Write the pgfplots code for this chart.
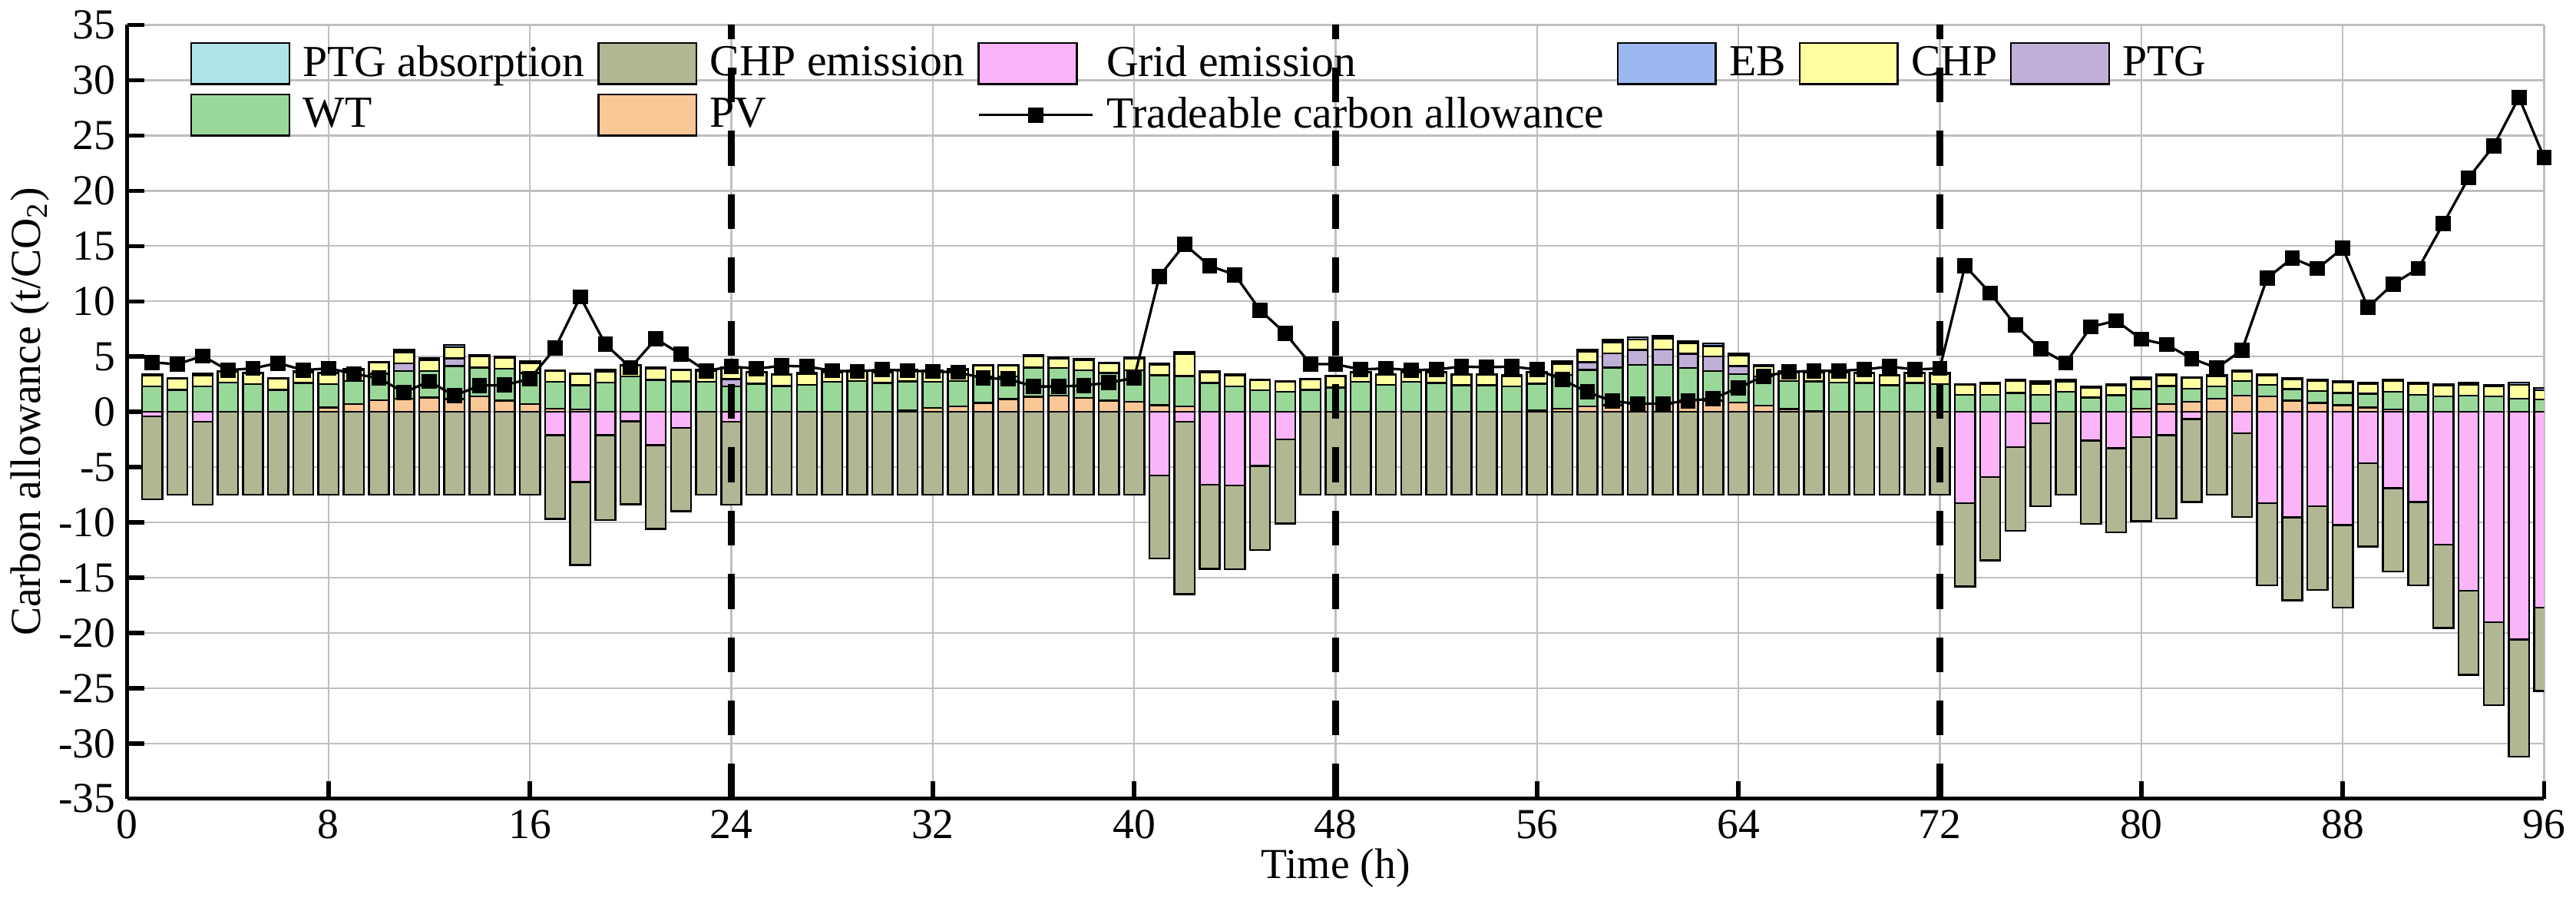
\documentclass[border=0pt]{standalone}
\usepackage{pgfplots}
\usepackage{pgfplotstable}
\pgfplotsset{compat=1.18}
\usepackage{fontspec}
\setmainfont{Liberation Serif}
\definecolor{cptga}{HTML}{AEE4EA}
\definecolor{cchpe}{HTML}{B2B793}
\definecolor{cgrid}{HTML}{FBB4F8}
\definecolor{ceb}{HTML}{9DB8F0}
\definecolor{cchp}{HTML}{FFFFA0}
\definecolor{cptg}{HTML}{C0B0D8}
\definecolor{cwt}{HTML}{9AD89A}
\definecolor{cpv}{HTML}{FAC896}
\pgfplotstableread{
h pv wt ptg chp eb grid chpe line
1 0 2.3 0 1.0 0.1 -0.4 -7.5 4.47
2 0 2.0 0 1.0 0.05 0 -7.5 4.31
3 0 2.3 0 1.0 0.15 -0.9 -7.5 5.05
4 0 2.65 0 1.0 0.05 0 -7.5 3.77
5 0 2.5 0 1.0 0.05 0 -7.5 3.93
6 0 2.0 0 1.0 0.05 0 -7.5 4.41
7 0 2.6 0 1.0 0.05 0 -7.5 3.77
8 0.4 2.1 0 1.0 0.05 0 -7.5 3.93
9 0.7 2.1 0 1.0 0.05 0 -7.5 3.45
10 1.05 2.4 0 1.0 0.05 0 -7.5 3.04
11 1.2 2.5 0.7 1.0 0.2 0 -7.5 1.76
12 1.3 2.4 0 1.0 0.15 0 -7.5 2.75
13 1.15 3.0 0.7 1.0 0.2 0 -7.5 1.47
14 1.4 2.6 0 1.0 0.15 0 -7.5 2.36
15 1.0 2.9 0 1.0 0.1 0 -7.5 2.43
16 0.7 2.8 0 0.9 0.15 0 -7.5 2.97
17 0.3 2.4 0 1.0 0.05 -2.1 -7.6 5.75
18 0.2 2.2 0 1.0 0.05 -6.35 -7.5 10.4
19 0 2.65 0 1.0 0.15 -2.1 -7.7 6.1
20 0 3.2 0 1.0 0.05 -0.85 -7.5 4.0
21 0 2.9 0 1.0 0.1 -3.0 -7.6 6.6
22 0 2.75 0 1.0 0.05 -1.45 -7.55 5.2
23 0 2.7 0 1.0 0.1 0 -7.5 3.7
24 0 2.3 0.65 1.0 0.05 -0.9 -7.5 4.1
25 0 2.55 0 1.0 0.05 0 -7.5 3.9
26 0 2.35 0 1.0 0.05 0 -7.5 4.16
27 0 2.45 0 1.0 0.05 0 -7.5 4.1
28 0 2.7 0 0.9 0.05 0 -7.5 3.72
29 0 2.8 0 0.9 0.05 0 -7.5 3.65
30 0 2.6 0 1.0 0.05 0 -7.5 3.82
31 0.15 2.6 0 1.0 0.05 0 -7.5 3.72
32 0.35 2.35 0 1.0 0.05 0 -7.5 3.65
33 0.5 2.3 0 1.0 0.05 0 -7.5 3.58
34 0.8 2.4 0 1.0 0.05 0 -7.5 3.04
35 1.15 2.05 0 1.0 0.05 0 -7.5 2.97
36 1.35 2.65 0 1.0 0.1 0 -7.5 2.29
37 1.45 2.5 0 0.9 0.1 0 -7.5 2.29
38 1.25 2.5 0 0.95 0.05 0 -7.5 2.39
39 1.0 2.5 0 0.9 0.05 0 -7.5 2.63
40 0.9 2.85 0 1.1 0.1 0 -7.5 3.07
41 0.6 2.7 0 0.95 0.15 -5.75 -7.5 12.25
42 0.5 2.75 0 2.0 0.15 -0.9 -15.6 15.15
43 0 2.6 0 0.95 0.15 -6.6 -7.6 13.2
44 0 2.3 0 1.0 0.1 -6.65 -7.6 12.4
45 0 1.95 0 0.9 0.05 -4.9 -7.6 9.2
46 0 1.8 0 0.95 0.05 -2.5 -7.6 7.1
47 0 2.0 0 0.95 0.05 0 -7.5 4.33
48 0 2.2 0 1.0 0.05 0 -7.5 4.3
49 0 2.7 0 0.85 0.05 0 -7.5 3.83
50 0 2.45 0 0.9 0.05 0 -7.5 3.93
51 0 2.7 0 0.9 0.05 0 -7.5 3.77
52 0 2.6 0 0.95 0.05 0 -7.5 3.83
53 0 2.4 0 0.95 0.05 0 -7.5 4.09
54 0 2.4 0 0.95 0.05 0 -7.5 4.03
55 0 2.3 0 0.95 0.05 0 -7.5 4.09
56 0.1 2.45 0 1.0 0.05 0 -7.5 3.83
57 0.3 3.05 0 1.0 0.2 0 -7.5 2.91
58 0.5 3.3 0.7 0.95 0.2 0 -7.5 1.79
59 0.6 3.4 1.3 1.0 0.2 0 -7.5 0.96
60 0.7 3.55 1.35 0.95 0.2 0 -7.5 0.73
61 0.7 3.55 1.4 1.0 0.2 0 -7.5 0.73
62 1.05 2.9 1.3 0.95 0.15 0 -7.5 0.99
63 1.0 2.7 1.3 0.95 0.25 0 -7.5 1.21
64 0.85 2.55 0.75 0.95 0.15 0 -7.5 2.17
65 0.55 2.65 0 0.9 0.15 0 -7.5 3.23
66 0.25 2.55 0 0.8 0.05 0 -7.5 3.61
67 0.05 2.7 0 0.85 0.05 0 -7.5 3.71
68 0 2.65 0 0.9 0.05 0 -7.5 3.71
69 0 2.6 0 0.9 0.05 0 -7.5 3.83
70 0 2.4 0 0.9 0.05 0 -7.5 4.09
71 0 2.6 0 0.9 0.05 0 -7.5 3.83
72 0 2.5 0 0.95 0.05 0 -7.5 3.93
73 0 1.55 0 0.9 0.05 -8.25 -7.55 13.2
74 0 1.55 0 1.0 0.1 -5.9 -7.55 10.75
75 0 1.7 0 1.1 0.1 -3.2 -7.55 7.84
76 0 1.55 0 1.0 0.2 -1.05 -7.5 5.68
77 0 1.8 0 0.9 0.2 0 -7.5 4.42
78 0 1.3 0 0.85 0.1 -2.6 -7.55 7.69
79 0 1.5 0 0.9 0.1 -3.3 -7.6 8.24
80 0.3 1.75 0 0.9 0.15 -2.3 -7.6 6.58
81 0.7 1.65 0 0.95 0.1 -2.1 -7.55 6.08
82 0.9 1.2 0 0.95 0.1 -0.65 -7.5 4.82
83 1.2 1.1 0 0.95 0.1 0 -7.5 3.97
84 1.45 1.35 0 0.85 0.1 -1.95 -7.55 5.58
85 1.4 1.05 0 0.85 0.1 -8.25 -7.45 12.1
86 1.0 1.05 0 0.9 0.1 -9.55 -7.5 13.9
87 0.8 1.1 0 0.9 0.1 -8.55 -7.55 12.96
88 0.6 1.1 0 0.95 0.1 -10.25 -7.45 14.8
89 0.4 1.25 0 0.9 0.05 -4.65 -7.55 9.45
90 0.2 1.6 0 1.0 0.1 -6.9 -7.55 11.56
91 0 1.55 0 1.0 0.1 -8.15 -7.55 12.96
92 0 1.4 0 1.0 0.1 -12.0 -7.55 17.04
93 0 1.45 0 1.0 0.15 -16.2 -7.6 21.16
94 0 1.4 0 0.9 0.15 -19.05 -7.5 24.07
95 0 1.2 0 1.25 0.2 -20.6 -10.6 28.44
96 0 1.1 0 0.85 0.2 -17.7 -7.55 23.0
}\data
\pgfplotsset{
  common/.style={width=764pt,height=244.5pt,scale only axis,
    xmin=0,xmax=96,ymin=-35,ymax=35},
  barsty/.style={ybar stacked,bar width=0.8,draw=black,line width=0.6pt},
  boxleg/.style={legend image code/.code={\draw[##1,draw=black,line width=0.6pt] (0pt,-6.5pt) rectangle (31pt,6.5pt);}},
  lineleg/.style={legend image code/.code={\draw[mark repeat=2,mark phase=2,##1] plot coordinates {(0pt,0pt) (18pt,0pt) (36pt,0pt)};}},
}
\begin{document}
\begin{tikzpicture}[font=\fontsize{13.5}{16}\selectfont]
\begin{axis}[common,barsty,
  axis lines*=left, axis line style={line width=1.3pt,-},
  xtick={0,8,...,96}, ytick={-35,-30,...,35},
  tick align=inside, major tick length=5.5pt, tick style={line width=1.3pt,black},
  grid=major, grid style={line width=0.6pt,color=black!25},
  /pgf/number format/assume math mode=true,
  xlabel={Time (h)}, ylabel={Carbon allowance (t/CO\textsubscript{2})},
  xlabel style={yshift=4pt}, ylabel style={yshift=-4pt}]
\addplot[fill=cgrid] table[x=h,y=grid]{\data};
\addplot[fill=cchpe] table[x=h,y=chpe]{\data};
\end{axis}
\begin{axis}[common,barsty,axis lines=none,xtick=\empty,ytick=\empty]
\addplot[fill=cpv] table[x=h,y=pv]{\data};
\addplot[fill=cwt] table[x=h,y=wt]{\data};
\addplot[fill=cptg] table[x=h,y=ptg]{\data};
\addplot[fill=cchp] table[x=h,y=chp]{\data};
\addplot[fill=ceb] table[x=h,y=eb]{\data};
\end{axis}
\begin{axis}[common,axis lines=none,xtick=\empty,ytick=\empty,
  legend columns=6,
  legend style={at={(0.022,0.99)},anchor=north west,draw=none,fill=none,
    row sep=1pt,column sep=2pt,font=\fontsize{14}{16}\selectfont},
  legend cell align=left]
\addlegendimage{boxleg,fill=cptga}\addlegendentry{PTG absorption}
\addlegendimage{boxleg,fill=cchpe}\addlegendentry{CHP emission}
\addlegendimage{boxleg,fill=cgrid}\addlegendentry{Grid emission\hspace{120pt}}
\addlegendimage{boxleg,fill=ceb}\addlegendentry{EB}
\addlegendimage{boxleg,fill=cchp}\addlegendentry{CHP}
\addlegendimage{boxleg,fill=cptg}\addlegendentry{PTG}
\addlegendimage{boxleg,fill=cwt}\addlegendentry{WT}
\addlegendimage{boxleg,fill=cpv}\addlegendentry{PV}
\addplot[black,line width=0.8pt,mark=square*,mark size=2pt,lineleg]
  table[x=h,y=line]{\data};
\addlegendentry{Tradeable carbon allowance}
\draw[black,line width=2pt,dash pattern=on 11pt off 9pt] (axis cs:24,-35) -- (axis cs:24,35);
\draw[black,line width=2pt,dash pattern=on 11pt off 9pt] (axis cs:48,-35) -- (axis cs:48,35);
\draw[black,line width=2pt,dash pattern=on 11pt off 9pt] (axis cs:72,-35) -- (axis cs:72,35);
\end{axis}
\end{tikzpicture}
\end{document}
